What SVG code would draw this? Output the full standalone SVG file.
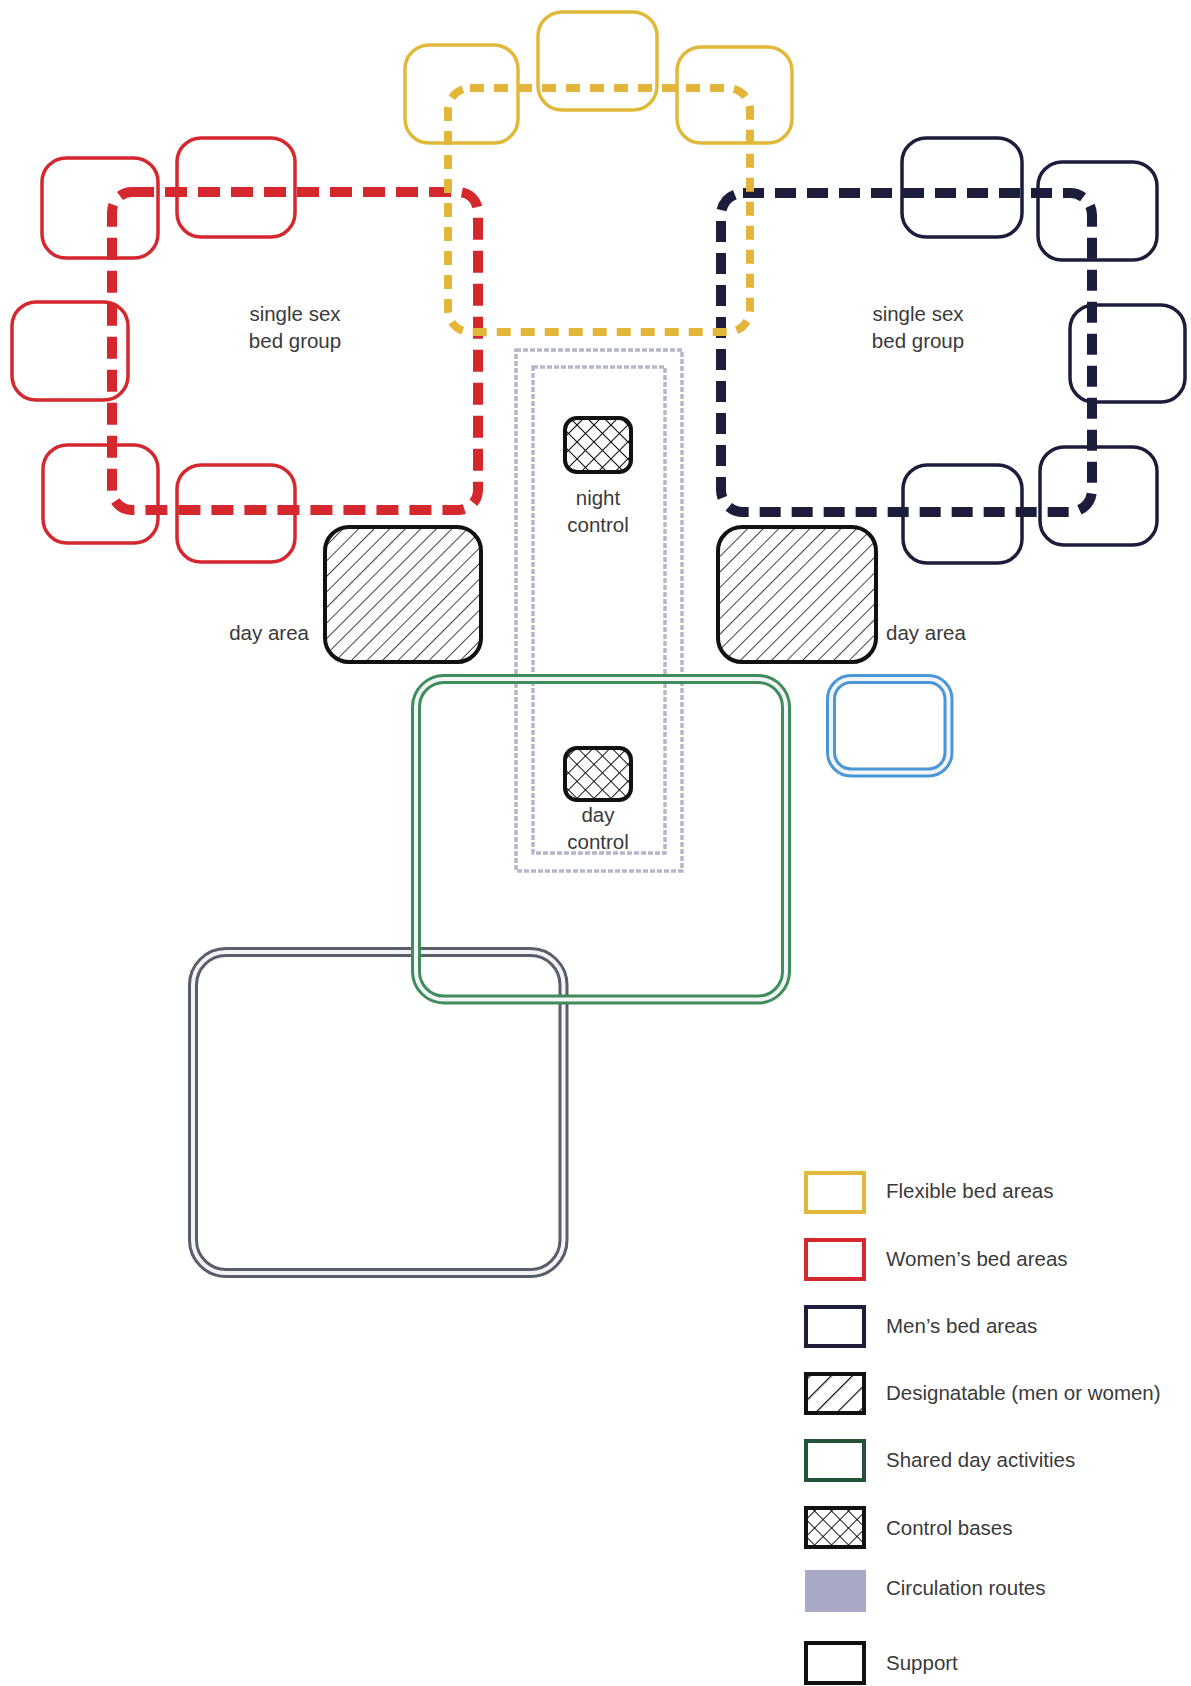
<svg xmlns="http://www.w3.org/2000/svg" width="1191" height="1686" viewBox="0 0 1191 1686">
<defs>
<pattern id="hatch" patternUnits="userSpaceOnUse" width="11" height="11" patternTransform="rotate(45)">
<rect width="11" height="11" fill="#fff"/>
<line x1="0" y1="0" x2="0" y2="11" stroke="#111" stroke-width="1.6"/>
</pattern>
<pattern id="hatchL" patternUnits="userSpaceOnUse" width="15" height="15" patternTransform="rotate(45)">
<rect width="15" height="15" fill="#fff"/>
<line x1="0" y1="0" x2="0" y2="15" stroke="#111" stroke-width="2.5"/>
</pattern>
<pattern id="cross" patternUnits="userSpaceOnUse" width="12" height="12" patternTransform="rotate(45)">
<rect width="12" height="12" fill="#fff"/>
<line x1="0" y1="0" x2="0" y2="12" stroke="#111" stroke-width="2"/>
<line x1="0" y1="0" x2="12" y2="0" stroke="#111" stroke-width="2"/>
</pattern>
</defs>
<style>
text{font-family:"Liberation Sans",Arial,sans-serif;font-size:20.5px;fill:#3a3a3a}
.c{text-anchor:middle}
.r{text-anchor:end}
.yb{fill:none;stroke:#e2b83a;stroke-width:3.5}
.rb{fill:none;stroke:#d4272e;stroke-width:3.5}
.nb{fill:none;stroke:#1c1d3b;stroke-width:3.5}
.yd{fill:none;stroke:#e3b538;stroke-width:8;stroke-dasharray:14 10}
.rd{fill:none;stroke:#d4272e;stroke-width:10;stroke-dasharray:22 11}
.nd{fill:none;stroke:#1c1d3b;stroke-width:10;stroke-dasharray:21 11}
.day{fill:url(#hatch);stroke:#111;stroke-width:4}
.ctl{fill:url(#cross);stroke:#111;stroke-width:4}
.circ{fill:none;stroke:#b4b7ca;stroke-width:3.5;stroke-dasharray:5 2}
.dbl{fill:none;stroke-width:10}
.dblin{fill:none;stroke:#f2f4f6;stroke-width:4}
.leg{stroke-width:4}
</style>
<rect width="1191" height="1686" fill="#fff"/>

<g id="circulation">
<rect x="516" y="350" width="166" height="521" class="circ"/>
<rect x="533" y="367" width="132" height="486" class="circ"/>
</g>

<g id="support">
<rect x="193" y="952" width="370.5" height="321" rx="33" class="dbl" stroke="#5a5d6b"/>
<rect x="193" y="952" width="370.5" height="321" rx="33" class="dblin"/>
</g>

<g id="shared-day">
<rect x="416" y="679" width="370" height="320.5" rx="28" class="dbl" stroke="#3f8d5d"/>
<rect x="416" y="679" width="370" height="320.5" rx="28" class="dblin"/>
</g>

<g id="blue-area">
<rect x="831" y="679" width="117.5" height="93.5" rx="20" class="dbl" stroke="#4a96d6"/>
<rect x="831" y="679" width="117.5" height="93.5" rx="20" class="dblin"/>
</g>

<g id="women-beds">
<rect x="42" y="158" width="116" height="100" rx="24" class="rb"/>
<rect x="177" y="138" width="118" height="99" rx="24" class="rb"/>
<rect x="12" y="302" width="116" height="98" rx="24" class="rb"/>
<rect x="43" y="445" width="115" height="98" rx="24" class="rb"/>
<rect x="177" y="465" width="118" height="97" rx="24" class="rb"/>
</g>

<g id="men-beds">
<rect x="902" y="138" width="120" height="99" rx="24" class="nb"/>
<rect x="1038" y="162" width="119" height="98" rx="24" class="nb"/>
<rect x="1070" y="305" width="115" height="97" rx="24" class="nb"/>
<rect x="1040" y="447" width="117" height="98" rx="24" class="nb"/>
<rect x="903" y="465" width="119" height="98" rx="24" class="nb"/>
</g>

<g id="flexible-beds">
<rect x="405" y="45" width="113" height="98" rx="24" class="yb"/>
<rect x="538" y="12" width="119" height="98" rx="24" class="yb"/>
<rect x="677" y="47" width="115" height="96" rx="24" class="yb"/>
</g>

<g id="connectors">
<rect x="112" y="192" width="366" height="318" rx="20" class="rd"/>
<rect x="721" y="193" width="371" height="319" rx="22" class="nd"/>
<rect x="448" y="88" width="302" height="244" rx="22" class="yd"/>
</g>

<g id="day-area-left">
<rect x="325" y="527" width="156" height="135" rx="24" class="day"/>
<text x="309" y="640" class="r">day area</text>
</g>
<g id="day-area-right">
<rect x="718" y="527" width="158" height="135" rx="24" class="day"/>
<text x="886" y="640">day area</text>
</g>

<g id="night-control">
<rect x="565" y="418" width="66" height="54" rx="12" class="ctl"/>
<text x="598" y="505" class="c">night</text>
<text x="598" y="532" class="c">control</text>
</g>
<g id="day-control">
<rect x="565" y="748" width="66" height="52" rx="12" class="ctl"/>
<text x="598" y="822" class="c">day</text>
<text x="598" y="849" class="c">control</text>
</g>

<g id="label-left">
<text x="295" y="321" class="c">single sex</text>
<text x="295" y="348" class="c">bed group</text>
</g>
<g id="label-right">
<text x="918" y="321" class="c">single sex</text>
<text x="918" y="348" class="c">bed group</text>
</g>

<g id="legend">
<rect x="806" y="1173" width="58" height="39" class="leg" fill="#fff" stroke="#e2b83a"/>
<text x="886" y="1198">Flexible bed areas</text>
<rect x="806" y="1240" width="58" height="39" class="leg" fill="#fff" stroke="#d4272e"/>
<text x="886" y="1266">Women’s bed areas</text>
<rect x="806" y="1307" width="58" height="39" class="leg" fill="#fff" stroke="#1c1d3b"/>
<text x="886" y="1333">Men’s bed areas</text>
<rect x="806" y="1374" width="58" height="39" class="leg" fill="url(#hatchL)" stroke="#111"/>
<text x="886" y="1400">Designatable (men or women)</text>
<rect x="806" y="1441" width="58" height="39" class="leg" fill="#fff" stroke="#23543a"/>
<text x="886" y="1467">Shared day activities</text>
<rect x="806" y="1508" width="58" height="39" class="leg" fill="url(#cross)" stroke="#111"/>
<text x="886" y="1535">Control bases</text>
<rect x="805" y="1570" width="61" height="42" fill="#a7a9c6"/>
<text x="886" y="1595">Circulation routes</text>
<rect x="806" y="1643" width="58" height="40" class="leg" fill="#fff" stroke="#111"/>
<text x="886" y="1670">Support</text>
</g>
</svg>
